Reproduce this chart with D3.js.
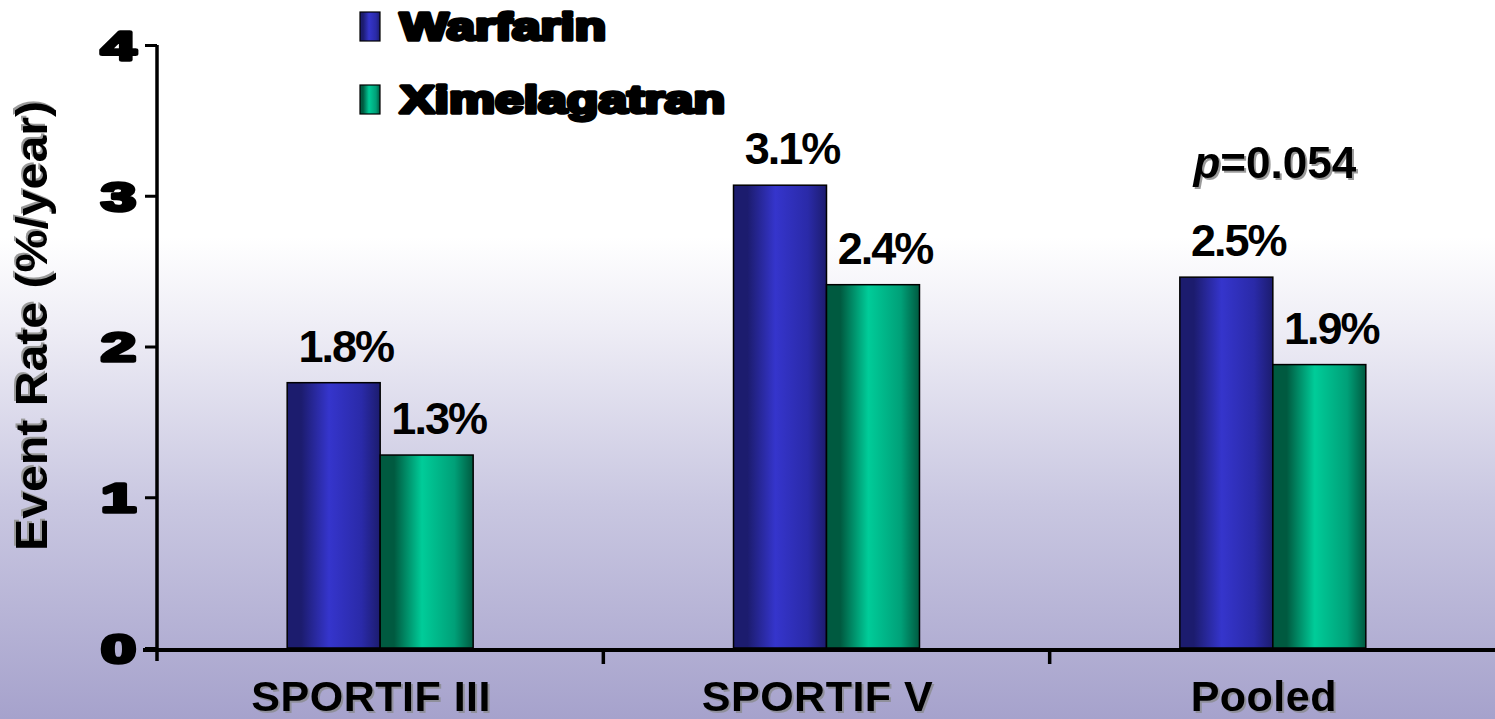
<!DOCTYPE html>
<html>
<head>
<meta charset="utf-8">
<script src="https://cdn.jsdelivr.net/npm/d3@7"></script>
<style>
  body { margin: 0; overflow: hidden; }
  text { font-family: "Liberation Sans", Arial, sans-serif; font-weight: bold; }
</style>
</head>
<body>
<svg width="1495" height="719"></svg>
<script>
const svg = d3.select("svg");
const width = 1495;
const height = 719;

// data
const categories = ["SPORTIF III", "SPORTIF V", "Pooled"];
const seriesNames = ["Warfarin", "Ximelagatran"];
const warfarin = [1.76, 3.07, 2.46];
const ximelagatran = [1.28, 2.41, 1.88];
const warfarinLabels = ["1.8%", "3.1%", "2.5%"];
const ximelagatranLabels = ["1.3%", "2.4%", "1.9%"];
const yTicks = [0, 1, 2, 3, 4];
const pValue = "=0.054";

const margin = { left: 157, right: 0, top: 45, bottom: 71 };

const defs = svg.append("defs");

// background: white at the top fading to lavender
const bg = defs.append("linearGradient").attr("id", "bg")
  .attr("x1", 0).attr("y1", 0).attr("x2", 0).attr("y2", 1);
[[0, "#ffffff"], [0.33, "#ffffff"], [0.45, "#efeef6"], [0.7, "#c9c7e1"], [1, "#a6a2cc"]]
  .forEach(s => bg.append("stop").attr("offset", s[0]).attr("stop-color", s[1]));

svg.append("rect").attr("width", width).attr("height", height).attr("fill", "url(#bg)");

// cylinder-like bar fills
function barGradient(id, dark, mid, light) {
  const g = defs.append("linearGradient").attr("id", id)
    .attr("x1", 0).attr("y1", 0).attr("x2", 1).attr("y2", 0);
  [[0, dark], [0.15, dark], [0.45, light], [0.8, mid], [1, dark]]
    .forEach(s => g.append("stop").attr("offset", s[0]).attr("stop-color", s[1]));
}
barGradient("gWar", "#1c1c6e", "#2a2aa8", "#3535cc");
barGradient("gXim", "#005a40", "#00a078", "#00cc99");

const x = d3.scaleBand()
  .domain(categories)
  .range([margin.left, 1496])
  .paddingInner(0).paddingOuter(0);

const xSub = d3.scaleBand()
  .domain(seriesNames)
  .range([0, x.bandwidth()])
  .paddingInner(0)
  .paddingOuter(1.4);

const y = d3.scaleLinear()
  .domain([0, 4])
  .range([648, margin.top]);

// bars
const rows = categories.map((c, i) => ({ cat: c, vals: [
  { s: "Warfarin", v: warfarin[i], lab: warfarinLabels[i], fill: "url(#gWar)" },
  { s: "Ximelagatran", v: ximelagatran[i], lab: ximelagatranLabels[i], fill: "url(#gXim)" }
]}));

const groups = svg.selectAll("g.cat")
  .data(rows)
  .join("g")
  .attr("class", "cat")
  .attr("transform", d => `translate(${x(d.cat)},0)`);

groups.selectAll("rect")
  .data(d => d.vals)
  .join("rect")
  .attr("x", d => xSub(d.s))
  .attr("width", xSub.bandwidth())
  .attr("y", d => y(d.v))
  .attr("height", d => y(0) - y(d.v))
  .attr("fill", d => d.fill)
  .attr("stroke", "#000")
  .attr("stroke-width", 1.5);

// value labels
groups.selectAll("text.val")
  .data(d => d.vals)
  .join("text")
  .attr("class", "val")
  .attr("x", d => xSub(d.s) + xSub.bandwidth() / 2 + 12)
  .attr("y", d => y(d.v) - 21)
  .attr("text-anchor", "middle")
  .attr("font-size", 45)
  .attr("letter-spacing", -2)
  .attr("fill", "#000")
  .text(d => d.lab);

// p value over pooled
const pText = svg.append("text")
  .attr("x", x("Pooled") + x.bandwidth() / 2 + 2)
  .attr("y", 178)
  .attr("text-anchor", "middle")
  .attr("font-size", 44)
  .attr("fill", "#000")
  .style("filter", "drop-shadow(2px 2px 0 #9a9a9a)");
pText.append("tspan").attr("font-style", "italic").text("p");
pText.append("tspan").text(pValue);

// x axis
const xAxisY = y(0) + 2;
svg.append("line")
  .attr("x1", 143).attr("x2", width)
  .attr("y1", xAxisY).attr("y2", xAxisY)
  .attr("stroke", "#000").attr("stroke-width", 4);

svg.selectAll("line.xtick")
  .data(categories.slice(1))
  .join("line")
  .attr("class", "xtick")
  .attr("x1", d => x(d)).attr("x2", d => x(d))
  .attr("y1", xAxisY).attr("y2", xAxisY + 14)
  .attr("stroke", "#000").attr("stroke-width", 3.5);

svg.selectAll("text.xlab")
  .data(categories)
  .join("text")
  .attr("class", "xlab")
  .attr("x", d => x(d) + x.bandwidth() / 2 - 9)
  .attr("y", 711)
  .attr("text-anchor", "middle")
  .attr("font-size", 43)
  .attr("letter-spacing", 0.5)
  .attr("fill", "#000")
  .style("filter", "drop-shadow(2px 2px 0 #8f8f9a)")
  .text(d => d);

// y axis
const yAxis = svg.append("g")
  .attr("transform", `translate(${margin.left},0)`)
  .call(d3.axisLeft(y).tickValues(yTicks).tickFormat(d3.format("d")).tickSize(12).tickPadding(9));
yAxis.select(".domain").remove();
yAxis.append("line")
  .attr("x1", 0).attr("x2", 0)
  .attr("y1", y(4)).attr("y2", 661)
  .attr("stroke", "#000").attr("stroke-width", 3.5);
yAxis.selectAll(".tick line").attr("stroke", "#000").attr("stroke-width", 3);
yAxis.selectAll(".tick text")
  .attr("font-family", "'Liberation Sans', Arial, sans-serif")
  .attr("font-weight", "bold")
  .attr("font-size", 40)
  .attr("textLength", 35)
  .attr("lengthAdjust", "spacingAndGlyphs")
  .attr("fill", "#000")
  .attr("stroke", "#000")
  .attr("stroke-width", 3.5)
  .attr("stroke-linejoin", "round")
  .attr("dy", "0.36em");

// y axis title
svg.append("text")
  .attr("transform", "translate(47,326) rotate(-90)")
  .attr("text-anchor", "middle")
  .attr("font-size", 44)
  .attr("textLength", 450)
  .attr("lengthAdjust", "spacingAndGlyphs")
  .attr("fill", "#000")
  .style("filter", "drop-shadow(2px -2px 0 #9a9a9a)")
  .text("Event Rate (%/year)");

// legend
const legendFills = ["url(#gWar)", "url(#gXim)"];
const legendW = [206, 325];
const legend = svg.selectAll("g.legend")
  .data(seriesNames)
  .join("g")
  .attr("class", "legend")
  .attr("transform", (d, i) => `translate(360,${12 + i * 73})`);
legend.append("rect")
  .attr("width", 20).attr("height", 29)
  .attr("fill", (d, i) => legendFills[i])
  .attr("stroke", "#000").attr("stroke-width", 1.2);
legend.append("text")
  .attr("x", 40).attr("y", 28)
  .attr("font-size", 38)
  .attr("textLength", (d, i) => legendW[i])
  .attr("lengthAdjust", "spacingAndGlyphs")
  .attr("fill", "#000")
  .attr("stroke", "#000")
  .attr("stroke-width", 3.5)
  .attr("stroke-linejoin", "round")
  .text(d => d);
</script>
</body>
</html>
